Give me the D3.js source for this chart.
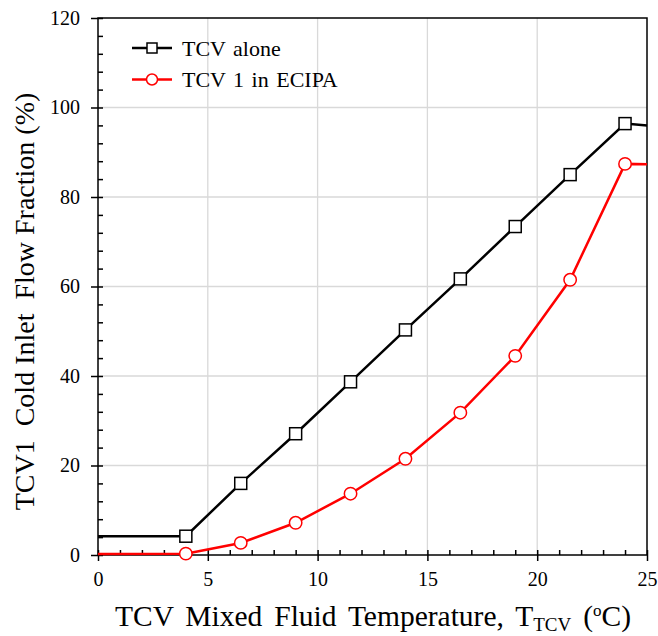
<!DOCTYPE html>
<html>
<head>
<meta charset="utf-8">
<script src="https://cdn.jsdelivr.net/npm/d3@7"></script>
<style>
  body { margin: 0; background: #fff; }
</style>
</head>
<body>
<div class="chart"></div>
<script>
// data
const tempAlone = [0, 4, 6.5, 9, 11.5, 14, 16.5, 19, 21.5, 24, 25]
const fracAlone = [4.2, 4.2, 16.0, 27.1, 38.7, 50.3, 61.7, 73.4, 85.0, 96.4, 96.0]
const tempEcipa = [0, 4, 6.5, 9, 11.5, 14, 16.5, 19, 21.5, 24, 25]
const fracEcipa = [0.2, 0.3, 2.7, 7.2, 13.7, 21.5, 31.8, 44.5, 61.5, 87.4, 87.3]
const xTicks = [0, 5, 10, 15, 20, 25]
const yTicks = [0, 20, 40, 60, 80, 100, 120]
const seriesNames = ['TCV alone', 'TCV 1 in ECIPA']

const serif = '"Liberation Serif", "Times New Roman", Times, serif'
const width = 658
const height = 636
const margin = { top: 18, right: 11, bottom: 81, left: 98 }
const innerW = width - margin.left - margin.right
const innerH = height - margin.top - margin.bottom

const svg = d3
  .select('.chart')
  .append('svg')
  .attr('width', width)
  .attr('height', height)
  .attr('font-family', serif)

const g = svg
  .append('g')
  .attr('transform', `translate(${margin.left}, ${margin.top})`)

const xScale = d3.scaleLinear().domain([0, 25]).range([0, innerW])
const yScale = d3.scaleLinear().domain([0, 120]).range([innerH, 0])

// grid
g.append('g')
  .selectAll('line')
  .data(xTicks.slice(1, -1))
  .join('line')
  .attr('x1', d => xScale(d)).attr('x2', d => xScale(d))
  .attr('y1', 0).attr('y2', innerH)
  .attr('stroke', '#d9d9d9').attr('stroke-width', 1.3)
g.append('g')
  .selectAll('line')
  .data(yTicks.slice(1, -1))
  .join('line')
  .attr('x1', 0).attr('x2', innerW)
  .attr('y1', d => yScale(d)).attr('y2', d => yScale(d))
  .attr('stroke', '#d9d9d9').attr('stroke-width', 1.3)

// frame
g.append('rect')
  .attr('width', innerW).attr('height', innerH)
  .attr('fill', 'none').attr('stroke', '#000').attr('stroke-width', 1.5)

// minor ticks (inside)
const xMinor = d3.range(1, 25).filter(v => v % 5 !== 0)
const yMinor = d3.range(4, 120, 4).filter(v => v % 20 !== 0)
g.append('g')
  .attr('transform', `translate(0, ${innerH})`)
  .call(d3.axisBottom(xScale).tickValues(xMinor).tickSize(-5).tickFormat(''))
  .call(a => a.select('.domain').remove())
g.append('g')
  .call(d3.axisLeft(yScale).tickValues(yMinor).tickSize(-5).tickFormat(''))
  .call(a => a.select('.domain').remove())

// major ticks, crossing the axis
const xAxis = g.append('g')
  .attr('transform', `translate(0, ${innerH})`)
  .call(d3.axisBottom(xScale).tickValues(xTicks).tickSize(6).tickPadding(11))
xAxis.select('.domain').remove()
xAxis.selectAll('.tick line').attr('y1', -5)

const yAxis = g.append('g')
  .call(d3.axisLeft(yScale).tickValues(yTicks).tickSize(7).tickPadding(11))
yAxis.select('.domain').remove()
yAxis.selectAll('.tick line').attr('x1', 5)

svg.selectAll('.tick line').attr('stroke', '#000').attr('stroke-width', 1.5)
svg.selectAll('.tick text').attr('font-size', 20).attr('fill', '#000')
svg.selectAll('g').filter(function () { return this.hasAttribute('font-family') })
  .attr('font-family', serif)

// lines
const dataAlone = tempAlone.map((t, i) => ({ t, v: fracAlone[i] }))
const dataEcipa = tempEcipa.map((t, i) => ({ t, v: fracEcipa[i] }))

const line = d3.line().x(d => xScale(d.t)).y(d => yScale(d.v))

g.append('path')
  .datum(dataAlone)
  .attr('fill', 'none').attr('stroke', '#000').attr('stroke-width', 2.5)
  .attr('d', line)
g.append('path')
  .datum(dataEcipa)
  .attr('fill', 'none').attr('stroke', '#ff0000').attr('stroke-width', 2.5)
  .attr('d', line)

// markers (not on the end points)
const sq = 12
g.append('g')
  .selectAll('rect')
  .data(dataAlone.slice(1, -1))
  .join('rect')
  .attr('x', d => xScale(d.t) - sq / 2)
  .attr('y', d => yScale(d.v) - sq / 2)
  .attr('width', sq).attr('height', sq)
  .attr('fill', '#fff').attr('stroke', '#000').attr('stroke-width', 1.5)
g.append('g')
  .selectAll('circle')
  .data(dataEcipa.slice(1, -1))
  .join('circle')
  .attr('cx', d => xScale(d.t))
  .attr('cy', d => yScale(d.v))
  .attr('r', 6.2)
  .attr('fill', '#fff').attr('stroke', '#ff0000').attr('stroke-width', 1.5)

// legend
const legend = svg.append('g').attr('transform', 'translate(132, 48)')
const colors = ['#000', '#ff0000']
seriesNames.forEach((name, i) => {
  const row = legend.append('g').attr('transform', `translate(0, ${i * 31.5})`)
  row.append('line').attr('x1', 0).attr('x2', 40).attr('y1', 0).attr('y2', 0)
    .attr('stroke', colors[i]).attr('stroke-width', 2.5)
  if (i === 0) {
    row.append('rect').attr('x', 20 - 5).attr('y', -5).attr('width', 10).attr('height', 10)
      .attr('fill', '#fff').attr('stroke', '#000').attr('stroke-width', 1.5)
  } else {
    row.append('circle').attr('cx', 20).attr('cy', 0).attr('r', 5.5)
      .attr('fill', '#fff').attr('stroke', '#ff0000').attr('stroke-width', 1.5)
  }
  row.append('text').attr('x', 50).attr('y', 7.5).attr('font-size', 22)
    .attr('word-spacing', 2).text(name)
})

// axis titles
const xTitle = svg.append('text')
  .attr('x', 115)
  .attr('y', 626)
  .attr('font-size', 29.5)
  .attr('word-spacing', 4.5)
xTitle.append('tspan').text('TCV Mixed Fluid Temperature, T')
xTitle.append('tspan').attr('font-size', 19).attr('dy', 5).text('TCV')
xTitle.append('tspan').attr('dy', -5).text(' (')
xTitle.append('tspan').attr('font-size', 17).attr('dy', -10).text('o')
xTitle.append('tspan').attr('dy', 10).text('C)')

svg.append('text')
  .attr('transform', `translate(34, ${margin.top + innerH / 2 + 15}) rotate(-90)`)
  .attr('text-anchor', 'middle')
  .attr('font-size', 28)
  .style('white-space', 'pre')
  .text('TCV1  Cold Inlet  Flow Fraction (%)')
</script>
</body>
</html>
